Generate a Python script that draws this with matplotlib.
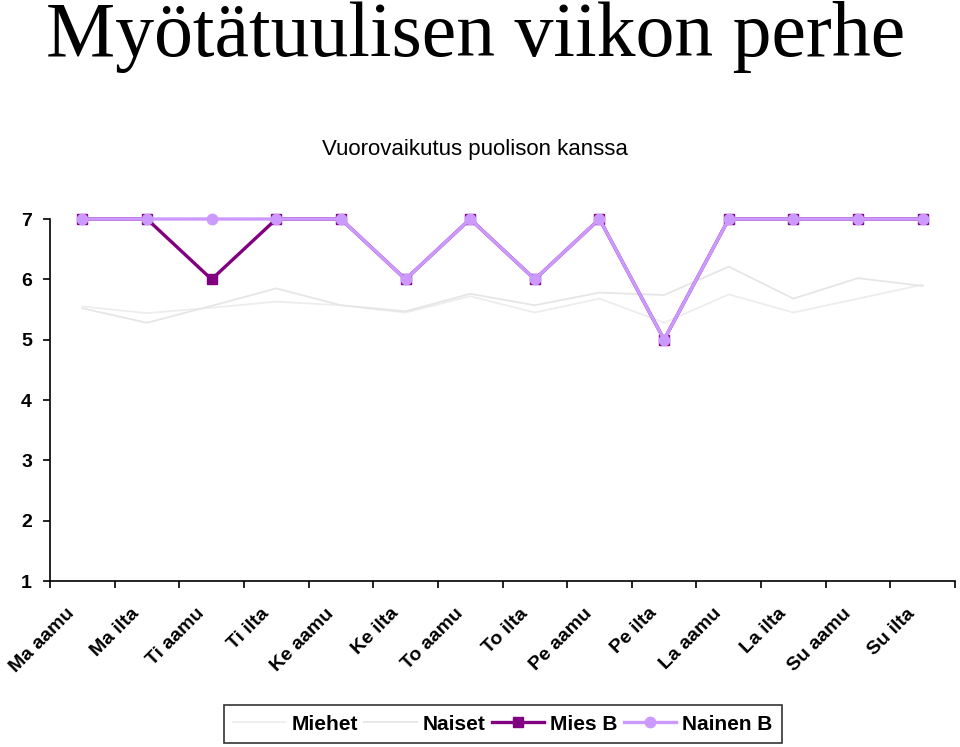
import matplotlib
matplotlib.use("Agg")
import matplotlib.pyplot as plt
from matplotlib.transforms import ScaledTranslation
import numpy as np

categories = ["Ma aamu", "Ma ilta", "Ti aamu", "Ti ilta", "Ke aamu", "Ke ilta", "To aamu",
              "To ilta", "Pe aamu", "Pe ilta", "La aamu", "La ilta", "Su aamu", "Su ilta"]
miehet = [5.55, 5.44, 5.53, 5.63, 5.57, 5.45, 5.72, 5.45, 5.68, 5.28, 5.75, 5.45, 5.68, 5.91]
naiset = [5.52, 5.28, 5.56, 5.85, 5.57, 5.47, 5.76, 5.57, 5.78, 5.74, 6.21, 5.68, 6.02, 5.89]
mies_b = [7, 7, 6, 7, 7, 6, 7, 6, 7, 5, 7, 7, 7, 7]
nainen_b = [7, 7, 7, 7, 7, 6, 7, 6, 7, 5, 7, 7, 7, 7]
yticks = [1, 2, 3, 4, 5, 6, 7]

fig = plt.figure(figsize=(9.6, 7.47), dpi=100)
ax = fig.add_axes([50/960, 1-581/747, 905/960, (581-219)/747])

x = np.arange(len(categories))
ax.plot(x, miehet, color="#EDEDED", lw=1.3, label="Miehet", zorder=2)
ax.plot(x, naiset, color="#E6E6E6", lw=1.3, label="Naiset", zorder=2)
ax.plot(x, mies_b, color="#800080", lw=2.4, marker="s", ms=7.5, mfc="#800080", mec="#800080",
        label="Mies B", zorder=3)
ax.plot(x, nainen_b, color="#CC99FF", lw=2.4, marker="o", ms=7.5, mfc="#CC99FF", mec="#CC99FF",
        label="Nainen B", zorder=4)

ax.set_xlim(-0.5, len(categories) - 0.5)
ax.set_ylim(1, 7)
ax.set_yticks(yticks)
ax.set_yticklabels([str(v) for v in yticks], fontsize=14, fontweight="bold", family="Liberation Sans")
ax.set_xticks(x)
ax.set_xticklabels(categories, rotation=45, ha="right", rotation_mode="anchor",
                   fontsize=14, fontweight="bold", family="Liberation Sans")
ax.tick_params(axis="x", which="major", length=0, pad=10)
ax.set_xticks(np.arange(-0.5, len(categories)), minor=True)
ax.tick_params(axis="x", which="minor", length=5, width=1.2, direction="out")
ax.tick_params(axis="y", length=5, width=1.2, direction="out", pad=8)
off = ScaledTranslation(-0.16, -0.10, fig.dpi_scale_trans)
for lab in ax.get_xticklabels():
    lab.set_transform(lab.get_transform() + off)
for s in ["top", "right"]:
    ax.spines[s].set_visible(False)
for s in ["left", "bottom"]:
    ax.spines[s].set_linewidth(1.2)
for ln in ax.lines:
    ln.set_clip_on(False)

fig.text(0.495, 1-56/747, "Myötätuulisen viikon perhe", ha="center", va="baseline",
         fontsize=56, family="Liberation Serif")
fig.text(0.495, 1-150/747, "Vuorovaikutus puolison kanssa", ha="center", va="center",
         fontsize=16, family="Liberation Sans")

leg = fig.legend(loc="center", bbox_to_anchor=(503/960, 1-724/747), ncol=4,
                 prop={"family": "Liberation Sans", "weight": "bold", "size": 15},
                 frameon=True, fancybox=False, edgecolor="black", handlelength=2.5,
                 columnspacing=0.3, handletextpad=0.3, borderpad=0.45)
leg.get_frame().set_linewidth(1.2)

fig.savefig("out.png", dpi=100)
